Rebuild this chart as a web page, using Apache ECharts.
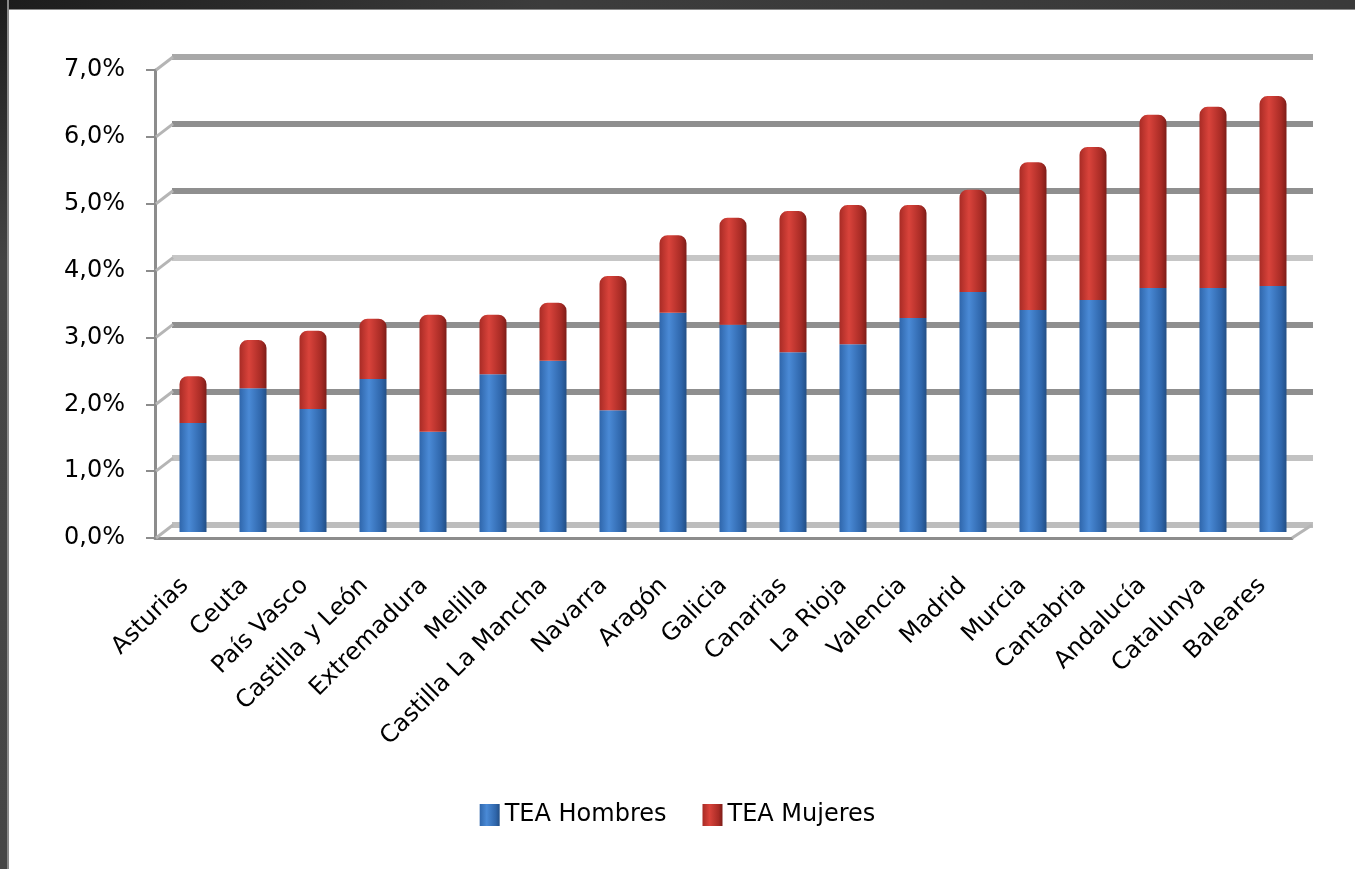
<!DOCTYPE html>
<html>
<head>
<meta charset="utf-8">
<script src="https://cdn.jsdelivr.net/npm/echarts@6/dist/echarts.min.js"></script>
<style>
  html, body { margin: 0; padding: 0; background: #fff; }
  #chart { width: 1355px; height: 869px; }
  #topband { position: absolute; left: 0; top: 0; width: 1355px; height: 9px;
    background: linear-gradient(to right, #1c1c1c, #3c3c3c 40%, #3a3a3a); border-bottom: 1px solid #8a8a8a; }
  #leftband { position: absolute; left: 0; top: 0; width: 7px; height: 869px;
    background: linear-gradient(to bottom, #1c1c1c, #444 30%, #464646); border-right: 2px solid #8a8a8a; }
</style>
</head>
<body>
<div id="chart"></div>
<div id="topband"></div>
<div id="leftband"></div>
<script>
// comunidades, ordered by total TEA
var regiones = ['Asturias', 'Ceuta', 'País Vasco', 'Castilla y León', 'Extremadura', 'Melilla',
  'Castilla La Mancha', 'Navarra', 'Aragón', 'Galicia', 'Canarias', 'La Rioja', 'Valencia',
  'Madrid', 'Murcia', 'Cantabria', 'Andalucía', 'Catalunya', 'Baleares'];

// TEA in %
var teaHombres = [1.63, 2.15, 1.84, 2.29, 1.50, 2.36, 2.56, 1.82, 3.28, 3.10, 2.69, 2.81, 3.20,
  3.59, 3.32, 3.47, 3.65, 3.65, 3.68];
var teaMujeres = [0.70, 0.72, 1.17, 0.90, 1.75, 0.89, 0.87, 2.01, 1.16, 1.60, 2.11, 2.08, 1.69,
  1.53, 2.21, 2.29, 2.59, 2.71, 2.84];

var yTicks = [0, 1, 2, 3, 4, 5, 6, 7];

var FONT = 'DejaVu Sans';

function cyl(dark, light, edge) {
  return new echarts.graphic.LinearGradient(0, 0, 1, 0, [
    { offset: 0, color: dark },
    { offset: 0.35, color: light },
    { offset: 0.8, color: dark },
    { offset: 1, color: edge }
  ]);
}

var blue = cyl('#2f66ab', '#4a8ad6', '#234f86');
var red = cyl('#a82b25', '#d9433b', '#7e1d18');

var chart = echarts.init(document.getElementById('chart'));

chart.setOption({
  backgroundColor: '#fff',
  animation: false,
  legend: {
    left: 'center',
    top: 798,
    itemWidth: 20,
    itemHeight: 22,
    itemGap: 36,
    icon: 'rect',
    textStyle: { fontFamily: FONT, fontSize: 24, color: '#000' },
    data: ['TEA Hombres', 'TEA Mujeres']
  },
  grid: [
    // back wall
    { left: 172, right: 42, top: 57, bottom: 344 },
    // bars, half way in depth
    { left: 163, right: 52, top: 64, bottom: 337 },
    // front axes
    { left: 155, right: 63, top: 70, bottom: 331 }
  ],
  xAxis: [
    { gridIndex: 0, type: 'category', data: regiones, show: false },
    { gridIndex: 1, type: 'category', data: regiones, show: false },
    {
      gridIndex: 2, type: 'category', data: regiones,
      axisLine: { lineStyle: { color: '#8c8c8c', width: 3 } },
      axisTick: { length: 9, lineStyle: { color: '#8c8c8c', width: 2 } },
      axisLabel: {
        interval: 0, rotate: 45, margin: 44,
        fontFamily: FONT, fontSize: 24, color: '#000'
      }
    }
  ],
  yAxis: [
    {
      gridIndex: 0, type: 'value', min: 0, max: 7, interval: 1,
      axisLine: { show: false }, axisTick: { show: false }, axisLabel: { show: false },
      splitLine: {
        lineStyle: {
          width: 6,
          color: ['#bdbdbd', '#c2c2c2', '#8f8f8f', '#8f8f8f', '#c6c6c6', '#8f8f8f', '#8f8f8f', '#a8a8a8']
        }
      }
    },
    {
      gridIndex: 1, type: 'value', min: 0, max: 7, interval: 1, show: false
    },
    {
      gridIndex: 2, type: 'value', min: yTicks[0], max: yTicks[yTicks.length - 1], interval: 1,
      axisLine: { show: true, lineStyle: { color: '#8c8c8c', width: 3 } },
      axisTick: { show: true, length: 9, lineStyle: { color: '#8c8c8c', width: 2 } },
      splitLine: { show: false },
      axisLabel: {
        margin: 30, fontFamily: FONT, fontSize: 24, color: '#000',
        formatter: function (v) { return v.toFixed(1).replace('.', ',') + '%'; }
      }
    }
  ],
  series: [
    {
      name: 'TEA Hombres', type: 'bar', stack: 'tea',
      xAxisIndex: 1, yAxisIndex: 1, barWidth: 27,
      itemStyle: { color: blue },
      data: teaHombres
    },
    {
      name: 'TEA Mujeres', type: 'bar', stack: 'tea',
      xAxisIndex: 1, yAxisIndex: 1, barWidth: 27,
      itemStyle: { color: red, borderRadius: [8, 8, 0, 0] },
      data: teaMujeres
    }
  ]
});

// little 3D stubs joining the front ticks to the back wall lines
var stubs = [];
yTicks.forEach(function (t) {
  var yf = chart.convertToPixel({ yAxisIndex: 2 }, t);
  var yb = chart.convertToPixel({ yAxisIndex: 0 }, t);
  stubs.push({
    type: 'line', z: 1,
    shape: { x1: 156, y1: yf, x2: 173, y2: yb },
    style: { stroke: '#b5b5b5', lineWidth: 3 }
  });
});
// floor edge on the right
var y0f = chart.convertToPixel({ yAxisIndex: 2 }, 0);
var y0b = chart.convertToPixel({ yAxisIndex: 0 }, 0);
stubs.push({
  type: 'line', z: 1,
  shape: { x1: 1292, y1: y0f, x2: 1312, y2: y0b },
  style: { stroke: '#b5b5b5', lineWidth: 3 }
});
chart.setOption({ graphic: stubs });
</script>
</body>
</html>
